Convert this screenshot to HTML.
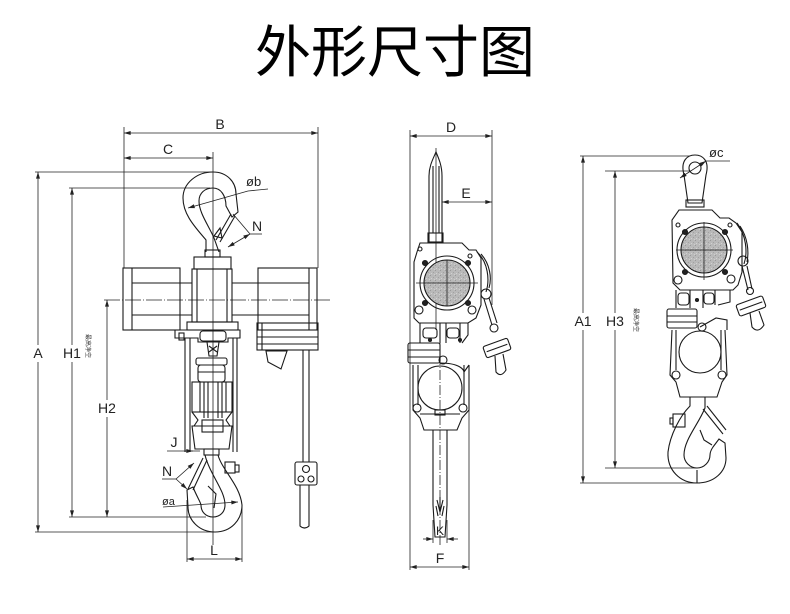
<!DOCTYPE html>
<html><head><meta charset="utf-8">
<style>
html,body{margin:0;padding:0;background:#fff;}
body{width:790px;height:614px;overflow:hidden;position:relative;}
.title{position:absolute;left:0;top:23px;width:790px;text-align:center;font-size:56px;line-height:60px;font-family:"Liberation Sans","Noto Sans CJK SC",sans-serif;color:#000;}
svg{position:absolute;left:0;top:0;}
.t{font-family:"Liberation Sans",sans-serif;font-size:14px;fill:#222;}
.s{font-family:"Liberation Sans",sans-serif;font-size:13px;fill:#222;}
.z{font-family:"Noto Sans CJK SC",sans-serif;font-size:6px;fill:#333;}
</style></head><body>
<div class="title">外形尺寸图</div>
<svg width="790" height="614" viewBox="0 0 790 614" xmlns="http://www.w3.org/2000/svg">
<defs>
<marker id="ar" viewBox="0 0 8 6" refX="8" refY="3" markerWidth="7" markerHeight="5" orient="auto-start-reverse" markerUnits="userSpaceOnUse"><path d="M0,0.6 L8,3 L0,5.4 Z" fill="#222"/></marker>
<pattern id="gp" width="5" height="5" patternUnits="userSpaceOnUse"><rect width="5" height="5" fill="#b9b9b9"/><rect x="0" y="0" width="1" height="1" fill="#999"/><rect x="3" y="2" width="1" height="1" fill="#a0a0a0"/><rect x="1" y="3" width="1" height="1" fill="#d2d2d2"/><rect x="4" y="4" width="1" height="1" fill="#cfcfcf"/></pattern>
</defs>

<!-- ================= LEFT VIEW ================= -->
<g stroke="#222" stroke-width="0.8" fill="none">
  <line x1="124" y1="127" x2="124" y2="268"/>
  <line x1="318" y1="127" x2="318" y2="268"/>
  <line x1="124" y1="133" x2="318" y2="133" marker-start="url(#ar)" marker-end="url(#ar)"/>
  <line x1="124" y1="158" x2="213" y2="158" marker-start="url(#ar)" marker-end="url(#ar)"/>
  <line x1="213" y1="152" x2="213" y2="545"/>
  <line x1="35" y1="172" x2="213" y2="172"/>
  <line x1="38" y1="172" x2="38" y2="345" marker-start="url(#ar)"/>
  <line x1="38" y1="362" x2="38" y2="532" marker-end="url(#ar)"/>
  <line x1="35" y1="532" x2="216" y2="532"/>
  <line x1="69" y1="188" x2="210" y2="188"/>
  <line x1="72" y1="188" x2="72" y2="345" marker-start="url(#ar)"/>
  <line x1="72" y1="362" x2="72" y2="517" marker-end="url(#ar)"/>
  <line x1="69" y1="517" x2="206" y2="517"/>
  <line x1="107" y1="300" x2="107" y2="400" marker-start="url(#ar)"/>
  <line x1="107" y1="417" x2="107" y2="517" marker-end="url(#ar)"/>
  <line x1="104" y1="300" x2="332" y2="300" stroke-dasharray="16,2,1,2"/>
  <line x1="167" y1="451" x2="200" y2="451"/>
  <line x1="185" y1="451" x2="193" y2="451" marker-end="url(#ar)"/>
  <line x1="187" y1="500" x2="187" y2="562"/>
  <line x1="242" y1="505" x2="242" y2="562"/>
  <line x1="187" y1="559" x2="242" y2="559" marker-start="url(#ar)" marker-end="url(#ar)"/>
  <line x1="163" y1="507" x2="238" y2="502" marker-end="url(#ar)"/>
  <line x1="162" y1="479" x2="176" y2="479"/>
  <line x1="176" y1="479" x2="194" y2="463" marker-end="url(#ar)"/>
  <line x1="176" y1="479" x2="187" y2="489" marker-end="url(#ar)"/>
  <line x1="188" y1="208" x2="248" y2="191" marker-start="url(#ar)"/>
  <line x1="248" y1="191" x2="268" y2="189"/>
  <line x1="233" y1="214" x2="250" y2="234"/>
  <line x1="228" y1="247" x2="250" y2="234" marker-start="url(#ar)" marker-end="url(#ar)"/>
  <line x1="250" y1="234" x2="262" y2="234"/>
</g>

<g stroke="#1a1a1a" stroke-width="1.1" fill="none">
  <path d="M206,252 L206,240 C196,228 183,215 183,198 C183,183 197,172 213,172 C227,172 236,182 236,194 L238,212 L232,217 L226,206 C226,196 221,188 213,188 C205,188 199,193 199,201 C199,213 209,226 214,238 L219,252"/>
  <line x1="216" y1="240" x2="231" y2="214"/>
  <line x1="220" y1="242" x2="235" y2="216"/>
  <path d="M214,236 L220,228 L222,238 Z"/>
  <rect x="205" y="250" width="15" height="7"/>
  <rect x="194" y="257" width="37" height="12"/>
  <rect x="192" y="269" width="40" height="53"/>
  <line x1="197" y1="269" x2="197" y2="322"/>
  <line x1="227" y1="269" x2="227" y2="322"/>
  <rect x="123" y="268" width="57" height="62"/>
  <line x1="132" y1="268" x2="132" y2="330"/>
  <line x1="132" y1="283" x2="192" y2="283"/>
  <line x1="132" y1="315" x2="192" y2="315"/>
  <rect x="258" y="268" width="59" height="62"/>
  <line x1="309" y1="268" x2="309" y2="330"/>
  <line x1="232" y1="283" x2="309" y2="283"/>
  <line x1="232" y1="315" x2="309" y2="315"/>
  <rect x="187" y="322" width="51" height="8"/>
  <path d="M175,330 L240,330 L240,338 L228,338 L228,342 L198,342 L198,338 L175,338 Z"/>
  <rect x="179" y="333" width="5" height="7"/>
  <rect x="200" y="331" width="26" height="10" rx="3"/>
  <path d="M207,342 L219,342 L217,356 L209,356 Z"/>
  <line x1="209" y1="346" x2="217" y2="352"/><line x1="217" y1="346" x2="209" y2="352"/>
  <rect x="257" y="323" width="61" height="27"/>
  <line x1="262" y1="323" x2="262" y2="350"/>
  <line x1="257" y1="330" x2="318" y2="330"/>
  <line x1="257" y1="337" x2="318" y2="337"/>
  <line x1="257" y1="344" x2="318" y2="344"/>
  <path d="M266,351 L287,351 L281,369 L268,362 Z"/>
  <line x1="303" y1="350" x2="303" y2="462"/>
  <line x1="309" y1="350" x2="309" y2="462"/>
  <rect x="295" y="462" width="22" height="23" rx="2"/>
  <circle cx="306" cy="469" r="3.5"/>
  <circle cx="301" cy="479" r="3"/>
  <circle cx="311" cy="479" r="3"/>
  <path d="M300,485 L300,526 Q304.5,530 309,526 L309,485"/>
  <line x1="185" y1="338" x2="185" y2="452"/>
  <line x1="190" y1="338" x2="190" y2="452"/>
  <line x1="233" y1="338" x2="233" y2="452"/>
  <line x1="237" y1="338" x2="237" y2="452"/>
  <rect x="196" y="358" width="31" height="7" rx="2"/>
  <rect x="198" y="365" width="27" height="17" rx="3"/>
  <line x1="198" y1="372" x2="225" y2="372"/>
  <rect x="192" y="382" width="40" height="30"/>
  <line x1="200" y1="382" x2="200" y2="412"/>
  <line x1="204" y1="382" x2="204" y2="418"/>
  <line x1="208" y1="382" x2="208" y2="418"/>
  <line x1="218" y1="382" x2="218" y2="418"/>
  <line x1="222" y1="382" x2="222" y2="418"/>
  <line x1="226" y1="382" x2="226" y2="412"/>
  <path d="M192,412 L198,420 L194,426"/>
  <path d="M232,412 L226,420 L230,426"/>
  <rect x="202" y="420" width="21" height="12"/>
  <path d="M192,426 L232,426 L229,449 L195,449 Z"/>
  <rect x="204" y="449" width="15" height="6"/>
  <path d="M218,455 C222,470 240,485 242,505 C242,520 231,532 215,532 C199,532 188,520 188,507 L187,490 L193,487 C196,495 201,503 201,505 C201,512 206,517 213,517 C220,517 225,512 225,505 C225,490 210,475 205,455"/>
  <line x1="188" y1="489" x2="203" y2="458"/>
  <line x1="193" y1="490" x2="207" y2="460"/>
  <path d="M208,486 L216,494 L214,508"/>
  <rect x="225" y="462" width="10" height="11"/>
  <rect x="235" y="465" width="4" height="7"/>
</g>

<text class="t" x="220" y="129" text-anchor="middle">B</text>
<text class="t" x="168" y="154" text-anchor="middle">C</text>
<text class="s" x="246" y="186">øb</text>
<text class="t" x="252" y="231">N</text>
<text class="t" x="38" y="358" text-anchor="middle">A</text>
<text class="t" x="72" y="358" text-anchor="middle">H1</text>
<text class="z" x="0" y="0" transform="translate(86,334) rotate(90)">最高净空</text>
<text class="t" x="107" y="413" text-anchor="middle">H2</text>
<text class="t" x="174" y="447" text-anchor="middle">J</text>
<text class="t" x="167" y="476" text-anchor="middle">N</text>
<text class="s" x="162" y="505" style="font-size:11px">øa</text>
<text class="t" x="214" y="555" text-anchor="middle">L</text>

<!-- ================= MIDDLE VIEW ================= -->
<g stroke="#222" stroke-width="0.8" fill="none">
  <line x1="410" y1="130" x2="410" y2="570"/>
  <line x1="492" y1="130" x2="492" y2="305"/>
  <line x1="410" y1="136" x2="492" y2="136" marker-start="url(#ar)" marker-end="url(#ar)"/>
  <line x1="442" y1="202" x2="492" y2="202" marker-start="url(#ar)" marker-end="url(#ar)"/>
  <line x1="469" y1="365" x2="469" y2="570"/>
  <line x1="410" y1="567" x2="469" y2="567" marker-start="url(#ar)" marker-end="url(#ar)"/>
  <line x1="433" y1="520" x2="433" y2="543"/>
  <line x1="447" y1="520" x2="447" y2="543"/>
  <line x1="423" y1="539" x2="433" y2="539" marker-end="url(#ar)"/>
  <line x1="458" y1="539" x2="447" y2="539" marker-end="url(#ar)"/>
  <line x1="436" y1="148" x2="436" y2="330"/>
  <line x1="440" y1="340" x2="440" y2="545" stroke-dasharray="10,2,1,2"/>
  <line x1="416" y1="283" x2="478" y2="283"/>
</g>
<g stroke="#1a1a1a" stroke-width="1.1" fill="none">
  <path d="M429,242 L429,176 C429,166 433,159 436,152 C439,159 442,166 442,176 L442,242"/>
  <line x1="433" y1="166" x2="433" y2="233"/>
  <line x1="439" y1="166" x2="439" y2="233"/>
  <rect x="428" y="233" width="15" height="9"/>
  <path d="M420,243 L462,243 L469,250 L476,250 L481,258 L481,305 L476,318 L468,323 L419,323 L414,318 L414,262 L417,252 Z"/>
  <circle cx="447" cy="283" r="27"/>
  <circle cx="447" cy="283" r="23" fill="url(#gp)"/>
  <line x1="424" y1="283" x2="470" y2="283" stroke-width="0.8"/>
  <line x1="447" y1="260" x2="447" y2="306" stroke-width="0.8"/>
  <circle cx="425" cy="263" r="2.5" fill="#222"/>
  <circle cx="468" cy="263" r="2.5" fill="#222"/>
  <circle cx="425" cy="303" r="2.5" fill="#222"/>
  <circle cx="468" cy="303" r="2.5" fill="#222"/>
  <circle cx="420" cy="249" r="2"/>
  <circle cx="470" cy="256" r="2"/>
  <circle cx="419" cy="310" r="4"/>
  <circle cx="472" cy="310" r="4"/>
  <path d="M477,252 C488,262 490,280 486,292"/>
  <path d="M481,254 C490,264 492,278 489,288"/>
  <circle cx="486" cy="294" r="5"/>
  <path d="M484,299 L492,325 M489,298 L497,323"/>
  <circle cx="494" cy="328" r="4"/>
  <g transform="translate(497,348) rotate(-20)"><rect x="-13" y="-6" width="26" height="12" rx="2"/><line x1="-11" y1="0" x2="11" y2="0"/></g>
  <path d="M495,356 L496,372 Q501,378 506,370 L503,354"/>
  <path d="M420,323 L420,343 M440,323 L440,343 M446,323 L446,343 M460,323 L460,343"/>
  <rect x="423" y="328" width="14" height="10" rx="3"/>
  <rect x="447" y="328" width="12" height="10" rx="3"/>
  <circle cx="430" cy="340" r="1.5" fill="#222"/>
  <circle cx="460" cy="340" r="1.5" fill="#222"/>
  <path d="M468,323 L468,335 L462,343"/>
  <rect x="408" y="343" width="32" height="20" rx="2"/>
  <line x1="408" y1="350" x2="440" y2="350"/>
  <line x1="408" y1="357" x2="440" y2="357"/>
  <path d="M413,365 L413,410 L420,418 L424,430 L457,430 L462,418 L469,410 L469,365"/>
  <path d="M418,365 L418,405 M464,365 L464,405"/>
  <path d="M440,363 C460,363 464,370 464,372 L469,365"/>
  <circle cx="440" cy="388" r="22"/>
  <circle cx="443" cy="360" r="4"/>
  <circle cx="417" cy="408" r="4"/>
  <circle cx="463" cy="408" r="4"/>
  <path d="M420,414 L460,414"/>
  <rect x="435" y="410" width="10" height="5"/>
  <path d="M433,430 L433,505 L435,537 L445,537 L447,505 L447,430"/>
  <path d="M437,500 L440,512 L443,500 M440,497 L440,512 M436,506 L438,516 M444,506 L442,516"/>
</g>
<text class="t" x="451" y="132" text-anchor="middle">D</text>
<text class="t" x="466" y="198" text-anchor="middle">E</text>
<text class="t" x="440" y="535" text-anchor="middle" style="font-size:12px">K</text>
<text class="t" x="440" y="563" text-anchor="middle">F</text>

<!-- ================= RIGHT VIEW ================= -->
<g stroke="#222" stroke-width="0.8" fill="none">
  <line x1="580" y1="156" x2="690" y2="156"/>
  <line x1="583" y1="156" x2="583" y2="313" marker-start="url(#ar)"/>
  <line x1="583" y1="330" x2="583" y2="483" marker-end="url(#ar)"/>
  <line x1="580" y1="483" x2="700" y2="483"/>
  <line x1="605" y1="171" x2="690" y2="171"/>
  <line x1="615" y1="171" x2="615" y2="313" marker-start="url(#ar)"/>
  <line x1="615" y1="330" x2="615" y2="468" marker-end="url(#ar)"/>
  <line x1="605" y1="468" x2="697" y2="468"/>
  <line x1="680" y1="178" x2="706" y2="161" marker-start="url(#ar)" marker-end="url(#ar)"/>
  <line x1="706" y1="161" x2="730" y2="161"/>
  <line x1="676" y1="250" x2="733" y2="250"/>
  <line x1="704" y1="222" x2="704" y2="280"/>
</g>
<g stroke="#1a1a1a" stroke-width="1.1" fill="none">
  <path d="M684,175 C680,160 688,155 695,155 C702,155 710,160 706,175 L702,203 L688,203 Z"/>
  <circle cx="695" cy="168" r="6"/>
  <rect x="686" y="200" width="18" height="7"/>
  <path d="M679,210 L712,210 L720,218 L729,218 L736,223 L742,232 L742,272 L738,285 L733,290 L680,290 L673,283 L672,220 Z"/>
  <circle cx="704" cy="250" r="27"/>
  <circle cx="704" cy="250" r="23" fill="url(#gp)"/>
  <line x1="681" y1="250" x2="727" y2="250" stroke-width="0.8"/>
  <line x1="704" y1="227" x2="704" y2="273" stroke-width="0.8"/>
  <circle cx="678" cy="225" r="2"/>
  <circle cx="730" cy="225" r="2"/>
  <circle cx="685" cy="232" r="2.5" fill="#222"/>
  <circle cx="725" cy="232" r="2.5" fill="#222"/>
  <circle cx="685" cy="272" r="2.5" fill="#222"/>
  <circle cx="725" cy="272" r="2.5" fill="#222"/>
  <circle cx="678" cy="280" r="4"/>
  <circle cx="731" cy="279" r="4"/>
  <path d="M737,223 C746,235 748,252 744,264"/>
  <path d="M740,226 C748,238 749,252 747,262"/>
  <circle cx="743" cy="261" r="5"/>
  <path d="M742,266 L748,290 M747,266 L752,289"/>
  <circle cx="750" cy="291" r="3.5"/>
  <g transform="translate(751,306) rotate(-20)"><rect x="-14" y="-6" width="28" height="12" rx="2"/><line x1="-12" y1="0" x2="12" y2="0"/></g>
  <path d="M750,313 L752,327 Q758,334 764,325 L759,311"/>
  <path d="M676,290 L676,308 M690,290 L690,308 M703,290 L703,308 M715,290 L715,305"/>
  <rect x="678" y="293" width="11" height="12" rx="3"/>
  <rect x="704" y="293" width="10" height="11" rx="3"/>
  <path d="M720,290 L730,290 L730,302 L718,305"/>
  <circle cx="697" cy="300" r="1.5" fill="#222"/>
  <rect x="667" y="309" width="30" height="19" rx="2"/>
  <line x1="667" y1="316" x2="697" y2="316"/>
  <line x1="667" y1="322" x2="697" y2="322"/>
  <path d="M672,330 L670,375 L676,382 L680,397 L717,397 L722,382 L727,375 L725,330"/>
  <path d="M676,330 L676,370 M721,330 L721,370"/>
  <path d="M700,327 L716,318 L727,320 L727,330"/>
  <circle cx="700" cy="352" r="21"/>
  <circle cx="702" cy="327" r="4"/>
  <circle cx="676" cy="375" r="4"/>
  <circle cx="722" cy="375" r="4"/>
  <path d="M690,397 L690,406 C680,416 670,435 668,452 C667,470 680,483 697,483 C714,483 726,472 726,458 L725,443 L719,439 L713,447 C711,450 710,452 710,455 C710,462 704,468 697,468 C690,468 684,462 684,455 C684,440 698,425 705,408 L705,397"/>
  <line x1="703" y1="409" x2="723" y2="434"/>
  <line x1="707" y1="406" x2="726" y2="430"/>
  <path d="M697,470 L697,483"/>
  <rect x="673" y="414" width="12" height="13"/>
  <rect x="670" y="418" width="3" height="6"/>
  <path d="M700,430 L704,440 L712,445"/>
</g>
<text class="t" x="583" y="326" text-anchor="middle">A1</text>
<text class="t" x="615" y="326" text-anchor="middle">H3</text>
<text class="z" x="0" y="0" transform="translate(634,308) rotate(90)">最高净空</text>
<text class="s" x="709" y="157">øc</text>
</svg>
</body></html>
